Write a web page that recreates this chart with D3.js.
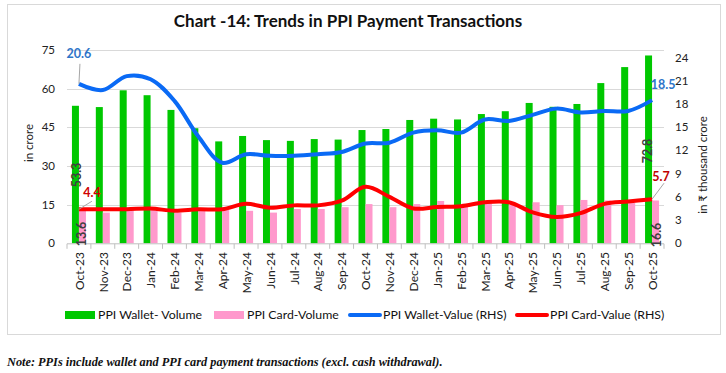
<!DOCTYPE html>
<html><head><meta charset="utf-8">
<script src="https://cdn.jsdelivr.net/npm/d3@7"></script>
<style>body{margin:0;background:#fff}svg{display:block}</style>
</head><body><svg id="c" width="726" height="373"></svg>
<script>
const categories = ["Oct-23","Nov-23","Dec-23","Jan-24","Feb-24","Mar-24","Apr-24","May-24","Jun-24","Jul-24","Aug-24","Sep-24","Oct-24","Nov-24","Dec-24","Jan-25","Feb-25","Mar-25","Apr-25","May-25","Jun-25","Jul-25","Aug-25","Sep-25","Oct-25"];
const walletVolume = [53.3,52.8,59.3,57.4,51.7,44.6,39.5,41.6,40.0,39.7,40.4,40.2,43.9,44.3,47.8,48.3,48.0,50.1,51.2,54.4,52.9,54.0,62.1,68.3,72.8];
const cardVolume = [13.6,11.9,12.9,13.0,11.9,12.9,12.9,12.6,11.9,13.3,13.3,14.0,15.2,14.0,15.2,16.4,14.2,15.5,14.8,15.9,14.8,16.8,16.6,15.7,16.6];
const walletValue = [20.6,19.8,21.6,21.2,18.4,13.8,10.4,11.5,11.3,11.3,11.5,11.8,12.9,13.0,14.3,14.6,14.3,16.0,15.8,16.6,17.4,16.9,17.1,17.1,18.5];
const cardValue = [4.4,4.4,4.4,4.5,4.2,4.4,4.4,5.1,4.6,4.9,4.9,5.5,7.3,6.0,4.5,4.7,4.8,5.3,5.3,4.0,3.4,3.9,5.1,5.4,5.7];
const leftTicks = [0,15,30,45,60,75];
const rightTicks = [0,3,6,9,12,15,18,21,24];
const seriesNames = ["PPI Wallet- Volume","PPI Card-Volume","PPI Wallet-Value (RHS)","PPI Card-Value (RHS)"];
const title = "Chart -14: Trends in PPI Payment Transactions";
const note = "Note: PPIs include wallet and PPI card payment transactions (excl. cash withdrawal).";

const svg = d3.select("#c");
const FONT = "Lato, 'Open Sans', sans-serif";
const cGreen = "#00c800", cPink = "#ff99cc", cBlue = "#0a6af5", cRed = "#ff0000";

// frame
svg.append("rect").attr("x",7.5).attr("y",4.5).attr("width",713).attr("height",330)
  .attr("fill","#fff").attr("stroke","#d9d9d9");

svg.append("text").attr("x",348).attr("y",21).attr("dy","0.35em").attr("text-anchor","middle")
  .attr("font-family",FONT).attr("font-weight","bold").attr("font-size",17).attr("fill","#111").text(title);

const L = 67, R = 664, T = 49.8, B = 243.3;
const x = d3.scaleBand().domain(categories).range([L,R]).padding(0);
const yL = d3.scaleLinear().domain([0,75]).range([B,T]);
const yR = d3.scaleLinear().domain([0,25]).range([B,T]);
const bw = 7;
const cx = c => x(c) + x.bandwidth()/2;

// gridlines
svg.append("g").selectAll("line").data(leftTicks.filter(d=>d>0)).join("line")
  .attr("x1",L).attr("x2",R).attr("y1",d=>Math.round(yL(d))+0.5).attr("y2",d=>Math.round(yL(d))+0.5)
  .attr("stroke","#d9d9d9").attr("stroke-width",1);

// bars
svg.append("g").selectAll("rect").data(categories).join("rect")
  .attr("x",c=>cx(c)-bw).attr("width",bw)
  .attr("y",(c,i)=>yL(walletVolume[i])).attr("height",(c,i)=>B-yL(walletVolume[i]))
  .attr("fill",cGreen);
svg.append("g").selectAll("rect").data(categories).join("rect")
  .attr("x",c=>cx(c)).attr("width",bw)
  .attr("y",(c,i)=>yL(cardVolume[i])).attr("height",(c,i)=>B-yL(cardVolume[i]))
  .attr("fill",cPink);

// x axis
const xAxis = svg.append("g").attr("transform",`translate(0,${B+0.5})`);
xAxis.append("line").attr("x1",L).attr("x2",R).attr("stroke","#bfbfbf");
xAxis.selectAll("line.t").data(d3.range(categories.length+1)).join("line").attr("class","t")
  .attr("x1",i=>L+i*x.step()).attr("x2",i=>L+i*x.step()).attr("y1",0).attr("y2",5).attr("stroke","#bfbfbf");
svg.append("g").selectAll("text").data(categories).join("text")
  .attr("transform",c=>`translate(${cx(c)+0.5},252) rotate(-90)`)
  .attr("text-anchor","end").attr("dy","0.35em")
  .attr("font-family",FONT).attr("font-size",12).attr("fill","#222").text(c=>c);

// axis tick labels
svg.append("g").selectAll("text").data(leftTicks).join("text")
  .attr("x",55).attr("y",d=>yL(d)).attr("dy","0.35em").attr("text-anchor","end")
  .attr("font-family",FONT).attr("font-size",11.5).attr("fill","#222").text(d=>d);
svg.append("g").selectAll("text").data(rightTicks).join("text")
  .attr("x",675).attr("y",d=>yR(d)).attr("dy","0.35em").attr("text-anchor","start")
  .attr("font-family",FONT).attr("font-size",11.5).attr("fill","#222").text(d=>d);

svg.append("text").attr("transform","translate(29,143) rotate(-90)").attr("text-anchor","middle")
  .attr("dy","0.35em").attr("font-family",FONT).attr("font-size",11.5).attr("fill","#222").text("in crore");
svg.append("text").attr("transform","translate(703,165) rotate(-90)").attr("text-anchor","middle")
  .attr("dy","0.35em").attr("font-family",FONT).attr("font-size",11.5).attr("fill","#222").text("in \u20b9 thousand crore");

// lines
const lineGen = yS => d3.line().x((d,i)=>cx(categories[i])).y(d=>yS(d)).curve(d3.curveCatmullRom.alpha(0.5));
svg.append("path").attr("d",lineGen(yR)(walletValue)).attr("fill","none").attr("stroke",cBlue).attr("stroke-width",4).attr("stroke-linejoin","round");
svg.append("path").attr("d",lineGen(yR)(cardValue)).attr("fill","none").attr("stroke",cRed).attr("stroke-width",4).attr("stroke-linejoin","round");

// data labels
const n = categories.length-1;
const c0 = cx(categories[0]), cn = cx(categories[n]);
svg.append("line").attr("x1",c0).attr("y1",yR(walletValue[0])).attr("x2",c0+1).attr("y2",yR(walletValue[0])-20).attr("stroke","#a6a6a6");
svg.append("line").attr("x1",c0).attr("y1",yR(cardValue[0])).attr("x2",c0+13).attr("y2",yR(cardValue[0])-8).attr("stroke","#a6a6a6");
svg.append("line").attr("x1",cn).attr("y1",yR(cardValue[n])).attr("x2",cn+12).attr("y2",yR(cardValue[n])-16).attr("stroke","#a6a6a6");

const lab = (t,xx,yy,col,anchor) => svg.append("text").attr("x",xx).attr("y",yy).attr("dy","0.35em")
  .attr("text-anchor",anchor||"middle").attr("font-family",FONT).attr("font-weight","bold").attr("font-size",12.5).attr("fill",col).text(t);
lab(walletValue[0].toFixed(1), c0, 54, "#2e75c9");
lab(cardValue[0].toFixed(1), c0+13, 193, "#d00000");
lab(walletValue[n].toFixed(1), cn+11, 85, "#2e75c9");
lab(cardValue[n].toFixed(1), cn+9, 177, "#c00000");

const vlab = (t,xx,yy) => svg.append("text").attr("transform",`translate(${xx},${yy}) rotate(-90)`)
  .attr("text-anchor","middle").attr("dy","0.35em").attr("font-family",FONT).attr("font-weight","bold")
  .attr("font-size",12.5).attr("fill","#404040").text(t);
vlab(walletVolume[0].toFixed(1), c0-2, 175);
vlab(cardVolume[0].toFixed(1), c0+3, 234);
vlab(walletVolume[n].toFixed(1), cn-4, 151);
vlab(cardVolume[n].toFixed(1), cn+5, 235);

// legend
const lg = svg.append("g").attr("font-family",FONT).attr("font-size",12.3).attr("fill","#111");
const legendItems = [
  {name:seriesNames[0], type:"rect", color:cGreen, x:65},
  {name:seriesNames[1], type:"rect", color:cPink, x:214},
  {name:seriesNames[2], type:"line", color:cBlue, x:350},
  {name:seriesNames[3], type:"line", color:cRed, x:517}
];
legendItems.forEach(it=>{
  if(it.type==="rect") lg.append("rect").attr("x",it.x).attr("y",311).attr("width",30).attr("height",8).attr("fill",it.color);
  else lg.append("line").attr("x1",it.x).attr("x2",it.x+30).attr("y1",315).attr("y2",315).attr("stroke",it.color).attr("stroke-width",4).attr("stroke-linecap","round");
  lg.append("text").attr("x",it.x+33).attr("y",315).attr("dy","0.35em").text(it.name);
});

svg.append("text").attr("x",7).attr("y",362).attr("dy","0.35em")
  .attr("font-family","'Liberation Serif', 'DejaVu Serif', serif").attr("font-weight","bold").attr("font-style","italic")
  .attr("font-size",12.3).attr("fill","#111").text(note);
</script></body></html>
